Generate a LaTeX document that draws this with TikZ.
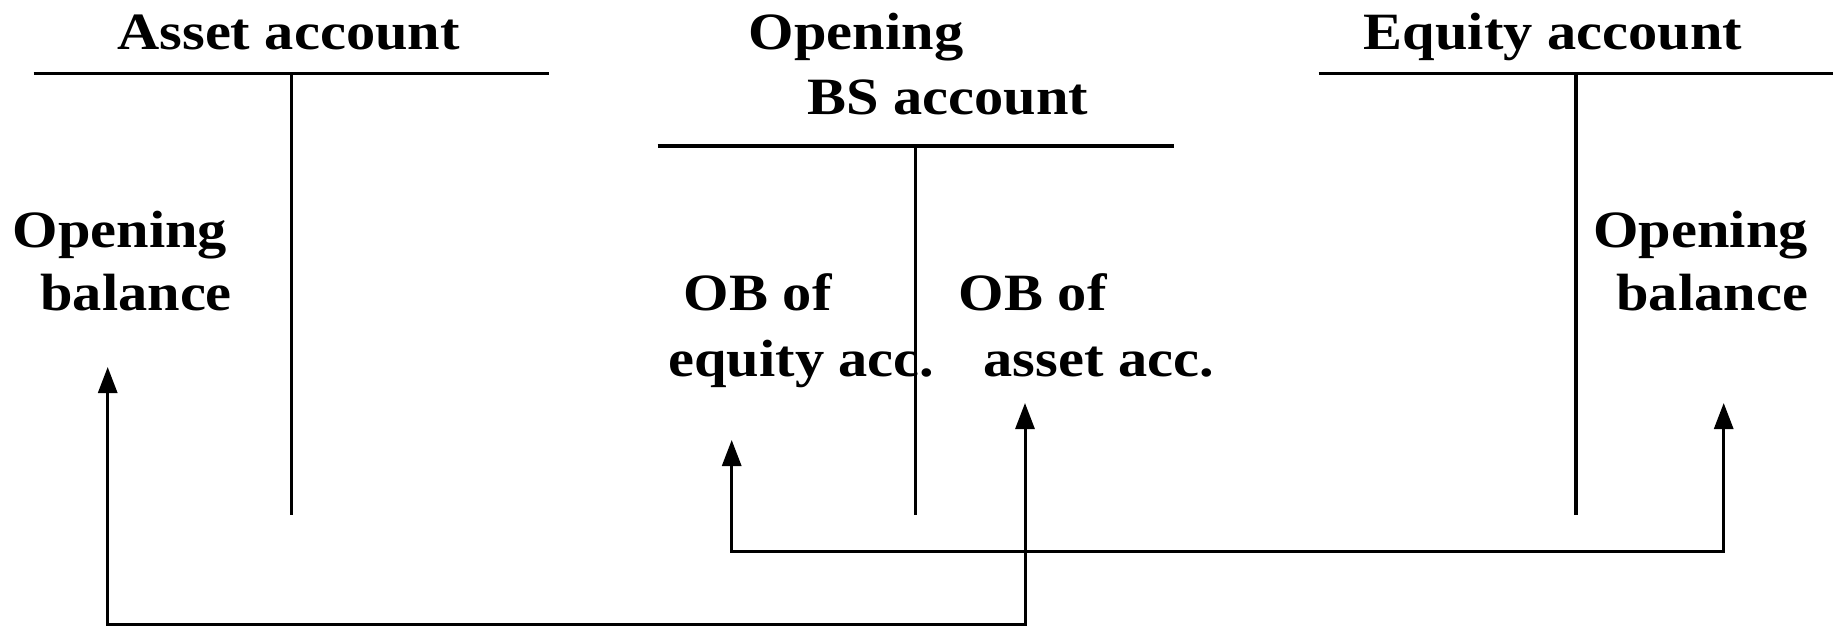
\documentclass[tikz,border=0pt]{standalone}
\usepackage{fontspec}
\setmainfont{Liberation Serif}[FakeStretch=1.115]
\usetikzlibrary{arrows.meta}
\begin{document}
\begin{tikzpicture}[x=0.5pt,y=-0.5pt,
  lbl/.style={font=\bfseries\fontsize{26.2pt}{32pt}\selectfont, inner sep=0pt, anchor=base west},
  tline/.style={line width=1.65pt},
  conn/.style={line width=1.5pt, {Triangle[length=13pt,width=9.5pt]}-{Triangle[length=13pt,width=9.5pt]}}]
\useasboundingbox (0,0) rectangle (1841,626);
% titles
\node[lbl] (assetT) at (117,49.3) {Asset account};
\node[lbl] (bsT1) at (748.5,50) {Opening};
\node[lbl] (bsT2) at (807,115) {BS account};
\node[lbl] (eqT) at (1363.5,50) {Equity account};
% T accounts
\coordinate (aL) at (33.6,73.5); \coordinate (aR) at (549,73.5);
\coordinate (aM) at (291.5,73.5); \coordinate (aB) at (291.5,515);
\draw[tline] (aL) -- (aR);
\draw[tline] (aM) -- (aB);
\coordinate (bL) at (657.5,146); \coordinate (bR) at (1173.5,146);
\coordinate (bM) at (915.3,146); \coordinate (bB) at (915.3,515);
\draw[tline] (bL) -- (bR);
\draw[tline] (bM) -- (bB);
\coordinate (eL) at (1318.6,73.3); \coordinate (eR) at (1833,73.3);
\coordinate (eM) at (1576,73.3); \coordinate (eB) at (1576,515);
\draw[tline] (eL) -- (eR);
\draw[tline] (eM) -- (eB);
% entries
\node[lbl] (ob1a) at (12.5,247) {Opening};
\node[lbl] (ob1b) at (40,310) {balance};
\node[lbl] (ob2a) at (683.5,310) {OB of};
\node[lbl] (ob2b) at (668,376.7) {equity acc.};
\node[lbl] (ob3a) at (958.5,310) {OB of};
\node[lbl] (ob3b) at (983,376.7) {asset acc.};
\node[lbl] (ob4a) at (1593,247) {Opening};
\node[lbl] (ob4b) at (1616,310) {balance};
% connectors
\coordinate (t1) at (107.7,367);
\coordinate (t2) at (1025,403);
\coordinate (b1) at (0,624);
\draw[conn] (t1) -- (t1 |- b1) -- (t2 |- b1) -- (t2);
\coordinate (t3) at (731.7,440);
\coordinate (t4) at (1723.7,403);
\coordinate (b2) at (0,551.3);
\draw[conn] (t3) -- (t3 |- b2) -- (t4 |- b2) -- (t4);
\end{tikzpicture}
\end{document}
